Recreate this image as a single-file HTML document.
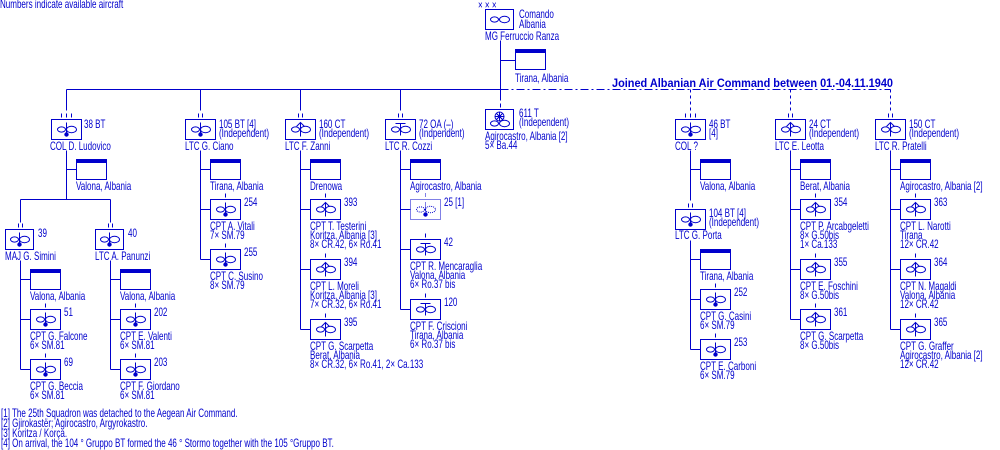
<!DOCTYPE html>
<html><head><meta charset="utf-8">
<style>
html,body{margin:0;padding:0;background:#fff;width:1000px;height:450px;overflow:hidden}
svg{display:block}
text{font-family:"Liberation Sans",sans-serif;font-size:11.5px;fill:#0000cc}
</style></head><body>
<svg id="s" width="1000" height="450" xmlns="http://www.w3.org/2000/svg" stroke="#0000cc" fill="none" stroke-width="1">
<text x="612" y="87" style="font-weight:bold;font-size:11.5px" stroke="none" textLength="281" lengthAdjust="spacingAndGlyphs">Joined Albanian Air Command between 01.-04.11.1940</text>
<g shape-rendering="crispEdges" transform="translate(0.5,0.5)">
<line x1="500" y1="89" x2="890" y2="89" stroke-dasharray="8,3,2,3"/>
<line x1="690" y1="89" x2="690" y2="111" stroke-dasharray="3,3"/>
<line x1="790" y1="89" x2="790" y2="111" stroke-dasharray="3,3"/>
<line x1="890" y1="89" x2="890" y2="111" stroke-dasharray="3,3"/>
</g>
<g id="g" transform="translate(0.5,0.5)"></g>
</svg>
<script>
var S=document.getElementById('g'),NS='http://www.w3.org/2000/svg';
function el(n,a){var e=document.createElementNS(NS,n);for(var k in a)e.setAttribute(k,a[k]);S.appendChild(e);return e;}
function L(x1,y1,x2,y2){el('line',{x1:x1,y1:y1,x2:x2,y2:y2,'shape-rendering':'crispEdges'});}
function T(x,yc,s){var e=el('text',{x:0,y:0,stroke:'none',transform:'translate('+(x-0.5)+','+(yc+3.5)+') scale(0.7,1)'});e.textContent=s;}
function ticks(cx,top,n){var xs=n==3?[-5,0,5]:n==2?[-2,2]:[0];xs.forEach(function(d){L(cx+d,top-6,cx+d,top-2);});}
function box(x,y,w,type,dot){var h=20,cx=x+w/2,cy=y+h/2;
 var r=el('rect',{x:x,y:y,width:w,height:h,'shape-rendering':'crispEdges'});if(dot)r.setAttribute('stroke-dasharray','1,1');
 function inf(yy){var a=el('ellipse',{cx:cx-5,cy:yy,rx:4,ry:2.6});var b=el('ellipse',{cx:cx+5,cy:yy,rx:5,ry:3.2});if(dot){a.setAttribute('stroke-dasharray','1,1');b.setAttribute('stroke-dasharray','1,1');}}
 if(type=='w'){inf(cy+4);el('circle',{cx:cx,cy:y+7,r:4.5});L(cx-4.5,y+7,cx+4.5,y+7);L(cx,y+2.5,cx,y+11.5);L(cx-3,y+4,cx+3,y+10);L(cx-3,y+10,cx+3,y+4);return;}
 inf(cy);
 if(type=='b'){var l=el('line',{x1:cx,y1:y+3,x2:cx,y2:cy+4});if(dot)l.setAttribute('stroke-dasharray','1,1');el('circle',{cx:cx,cy:cy+5,r:2.2,fill:'#0000cc',stroke:'none'});}
 if(type=='f'){L(cx,y+3,cx,y+h-3);el('polyline',{points:(cx-4)+','+(y+7)+' '+cx+','+(y+3)+' '+(cx+4)+','+(y+7)});}
 if(type=='t'){L(cx-5,y+4,cx+5,y+4);L(cx,y+4,cx,y+h-4);}
}
function hq(x,y){el('rect',{x:x,y:y,width:30,height:20,'shape-rendering':'crispEdges'});el('rect',{x:x,y:y,width:30,height:3,fill:'#0000cc','shape-rendering':'crispEdges'});}
T(0,4,'Numbers indicate available aircraft');
T(478,5,'× × ×');
box(485,9,28,'i');
T(519,14,'Comando');T(519,24,'Albania');T(485,36,'MG  Ferruccio Ranza');
L(500,40,500,100);L(500,60,515,60);hq(515,49);T(515,78,'Tirana, Albania');
ticks(500,109,1);box(485,109,28,'w');T(519,113,'611 T');T(519,122,'(Independent)');T(485,136,'Agirocastro, Albania [2]');T(485,145,'5× Ba.44');
L(66,89,500,89);
[66,200,300,400].forEach(function(x){L(x,89,x,110);});
function sq(vx,bx,y,type,num,lines,dot){L(vx,y+10,bx,y+10);ticks(bx+15,y,1);box(bx,y,30,type,dot);T(bx+34,y+3,num);lines.forEach(function(s,i){T(bx,y+27+9*i,s);});}
function hqb(vx,y,txt){L(vx,y+10,vx+10,y+10);hq(vx+10,y);T(vx+10,y+27,txt);}
ticks(66,119,3);box(51,119,30,'b');T(84,124,'38 BT');T(50,146,'COL  D. Ludovico');
L(66,150,66,199);hqb(66,159,'Valona, Albania');L(20,199,110,199);L(20,199,20,222);L(110,199,110,222);
ticks(20,229,2);box(5,229,28,'b');T(38,233,'39');T(5,256,'MAJ  G. Simini');
L(20,260,20,369);hqb(20,269,'Valona, Albania');
sq(20,30,309,'b','51',['CPT  G. Falcone','6× SM.81']);sq(20,30,359,'b','69',['CPT  G. Beccia','6× SM.81']);
ticks(110,229,2);box(95,229,28,'b');T(128,233,'40');T(95,256,'LTC  A. Panunzi');
L(110,260,110,369);hqb(110,269,'Valona, Albania');
sq(110,120,309,'b','202',['CPT E. Valenti','6× SM.81']);sq(110,120,359,'b','203',['CPT  F. Giordano','6× SM.81']);
ticks(200,119,2);box(185,119,30,'b');T(219,124,'105 BT [4]');T(219,133,'(Independent)');T(185,146,'LTC  G. Ciano');
L(200,150,200,259);hqb(200,159,'Tirana, Albania');
sq(200,210,199,'b','254',['CPT  A. Vitali','7× SM.79']);sq(200,210,249,'b','255',['CPT  C. Susino','8× SM.79']);
ticks(300,119,2);box(285,119,30,'f');T(319,124,'160 CT');T(319,133,'(Independent)');T(285,146,'LTC  F. Zanni');
L(300,150,300,329);hqb(300,159,'Drenowa');
sq(300,310,199,'f','393',['CPT  T. Testerini','Koritza, Albania [3]','8× CR.42, 6× Ro.41']);
sq(300,310,259,'f','394',['CPT  L. Moreli','Koritza, Albania [3]','7× CR.32, 6× Ro.41']);
sq(300,310,319,'f','395',['CPT  G. Scarpetta','Berat, Albania','8× CR.32, 6× Ro.41, 2× Ca.133']);
ticks(400,119,2);box(385,119,30,'t');T(419,124,'72 OA (–)');T(419,133,'(Indpendent)');T(385,146,'LTC  R. Cozzi');
L(400,150,400,309);hqb(400,159,'Agirocastro, Albania');
L(400,209,410,209);el('line',{x1:425,y1:193,x2:425,y2:197,'stroke-dasharray':'1,1'});box(410,199,30,'b',true);T(444,202,'25 [1]');
sq(400,410,239,'t','42',['CPT  R. Mencaraglia','Valona, Albania','6× Ro.37 bis']);
sq(400,410,299,'t','120',['CPT  F. Criscioni','Tirana, Albania','6× Ro.37 bis']);
ticks(690,119,3);box(675,119,30,'b');T(709,124,'46 BT');T(709,133,'[4]');T(675,146,'COL  ?');
L(690,150,690,200);hqb(690,159,'Valona, Albania');
ticks(690,209,2);box(675,209,30,'b');T(709,213,'104 BT [4]');T(709,222,'(Independent)');T(675,235,'LTC  G. Porta');
L(690,240,690,349);hqb(690,249,'Tirana, Albania');
sq(690,700,289,'b','252',['CPT  G. Casini','6× SM.79']);sq(690,700,339,'b','253',['CPT  E. Carboni','6× SM.79']);
ticks(790,119,2);box(775,119,30,'f');T(809,124,'24 CT');T(809,133,'(Independent)');T(775,146,'LTC  E. Leotta');
L(790,150,790,319);hqb(790,159,'Berat, Albania');
sq(790,800,199,'f','354',['CPT  P. Arcabgeletti','8× G.50bis','1× Ca.133']);
sq(790,800,259,'f','355',['CPT  E. Foschini','8× G.50bis']);
sq(790,800,309,'f','361',['CPT  G. Scarpetta','8× G.50bis']);
ticks(890,119,2);box(875,119,30,'f');T(909,124,'150  CT');T(909,133,'(Independent)');T(875,146,'LTC  R. Pratelli');
L(890,150,890,329);hqb(890,159,'Agirocastro, Albania [2]');
sq(890,900,199,'f','363',['CPT  L. Narotti','Tirana','12× CR.42']);
sq(890,900,259,'f','364',['CPT  N. Magaldi','Valona, Albania','12× CR.42']);
sq(890,900,319,'f','365',['CPT  G. Graffer','Agirocastro, Albania [2]','12× CR.42']);
T(1,413,'[1] The 25th Squadron was detached to the Aegean Air Command.');
T(1,423,'[2] Gjirokastër; Agirocastro, Argyrokastro.');
T(1,433,'[3] Koritza / Korça.');
T(1,443,'[4] On arrival, the 104 ° Gruppo BT formed the 46 ° Stormo together with the 105 °Gruppo BT.');
</script>
</body></html>
